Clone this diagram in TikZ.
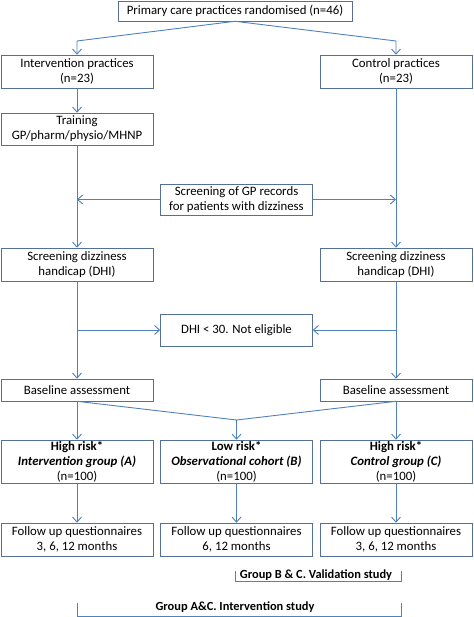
\documentclass[tikz,border=0pt]{standalone}
\usepackage{fontspec}
\setmainfont{Carlito}
\usetikzlibrary{arrows.meta, positioning, calc}

\definecolor{boxline}{RGB}{84,112,150}
\definecolor{flowline}{RGB}{79,129,189}

\begin{document}
\begin{tikzpicture}[
  x=1pt, y=-1pt,
  every node/.style = {font=\fontsize{12.8}{15}\selectfont},
  block/.style = {draw=boxline, line width=0.6pt, minimum width=152pt, inner sep=0pt, align=center},
  study/.style = {font=\fontsize{12.4}{15}\selectfont\bfseries, inner sep=0pt},
  arrow/.style = {draw=flowline, line width=0.9pt, -{Straight Barb[length=5pt,width=9pt]}},
  link/.style = {draw=flowline, line width=0.9pt},
  brace/.style = {draw=flowline, line width=0.9pt}
]
  \useasboundingbox (0,0) rectangle (473,617);

  % Randomisation
  \node[block, minimum width=234pt, minimum height=20pt] (rand) at (235,11) {Primary care practices randomised (n=46)};
  \node[block, minimum height=33pt] (intv) at (77,71.5) {Intervention practices\\(n=23)};
  \node[block, minimum height=33pt] (ctrl) at (396,71.5) {Control practices\\(n=23)};
  \node[block, minimum height=32pt] (train) at (77,129) {Training\\GP/pharm/physio/MHNP};

  % Screening
  \node[block, minimum height=31pt] (recs) at (236.5,199.5) {Screening of GP records\\for patients with dizziness};
  \node[block, minimum height=33pt] (scrL) at (77,264.5) {Screening dizziness\\handicap (DHI)};
  \node[block, minimum height=33pt] (scrR) at (396,264.5) {Screening dizziness\\handicap (DHI)};
  \node[block, minimum height=32pt] (dhi) at (236.5,330) {DHI < 30. Not eligible};

  % Baseline
  \node[block, minimum height=22pt] (baseL) at (77,390) {Baseline assessment};
  \node[block, minimum height=22pt] (baseR) at (396,390) {Baseline assessment};
  \coordinate (split) at (236.5,420);

  % Groups
  \node[block, minimum height=43pt] (grpA) at (77,461.5) {\textbf{High risk*}\\\textbf{\textit{Intervention group (A)}}\\(n=100)};
  \node[block, minimum height=43pt] (grpB) at (236.5,461.5) {\textbf{Low risk*}\\\textbf{\textit{Observational cohort (B)}}\\(n=100)};
  \node[block, minimum height=43pt] (grpC) at (396,461.5) {\textbf{High risk*}\\\textbf{\textit{Control group (C)}}\\(n=100)};

  % Follow up
  \node[block, minimum height=33pt] (fupA) at (77,539.5) {Follow up questionnaires\\3, 6, 12 months};
  \node[block, minimum height=33pt] (fupB) at (236.5,539.5) {Follow up questionnaires\\6, 12 months};
  \node[block, minimum height=33pt] (fupC) at (396,539.5) {Follow up questionnaires\\3, 6, 12 months};

  % Study labels
  \node[study] (valid) at (316,575) {Group B \& C. Validation study};
  \node[study] (inter) at (235,607) {Group A\&C. Intervention study};

  % Connectors
  \draw[arrow] (rand.south) -- (77,41) -- (intv.north);
  \draw[arrow] (rand.south) -- (396,41) -- (ctrl.north);
  \draw[arrow] (intv.south) -- (train.north);
  \draw[arrow] (train.south) -- (scrL.north);
  \draw[arrow] (ctrl.south) -- (scrR.north);
  \draw[arrow] (recs.west) -- (recs.west -| scrL.north);
  \draw[arrow] (recs.east) -- (recs.east -| scrR.north);
  \draw[arrow] (scrL.south) -- (baseL.north);
  \draw[arrow] (scrR.south) -- (baseR.north);
  \draw[arrow] (dhi.west -| scrL.south) -- (dhi.west);
  \draw[arrow] (dhi.east -| scrR.south) -- (dhi.east);
  \draw[arrow] (baseL.south) -- (grpA.north);
  \draw[arrow] (baseR.south) -- (grpC.north);
  \draw[link] (baseL.south) -- (split);
  \draw[link] (baseR.south) -- (split);
  \draw[arrow] (split) -- (grpB.north);
  \draw[arrow] (grpA.south) -- (fupA.north);
  \draw[arrow] (grpB.south) -- (fupB.north);
  \draw[arrow] (grpC.south) -- (fupC.north);

  % Brackets
  \draw[brace] (235,571) -- (235,581) -- (401,581) -- (401,571);
  \draw[brace] (77,603) -- (77,616) -- (401,616) -- (401,603);

\end{tikzpicture}
\end{document}
